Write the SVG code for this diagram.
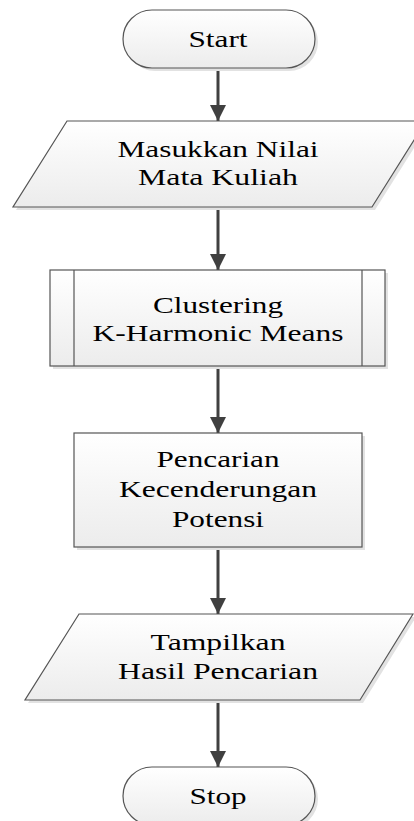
<svg xmlns="http://www.w3.org/2000/svg" width="414" height="821" viewBox="0 0 414 821">
  <defs>
    <linearGradient id="g" x1="0" y1="0" x2="0" y2="1">
      <stop offset="0" stop-color="#ffffff"/>
      <stop offset="1" stop-color="#ececec"/>
    </linearGradient>
    <marker id="ah" markerUnits="userSpaceOnUse" markerWidth="18" markerHeight="18" refX="16" refY="8" orient="auto">
      <path d="M0,0 L16,8 L0,16 z" fill="#404040"/>
    </marker>
  </defs>
  <style>
    .shape { fill: url(#g); stroke: #555555; stroke-width: 1.2; }
    .shadow { fill: #e2e2e2; stroke: none; }
    .inner { stroke: #555555; stroke-width: 1.2; fill: none; }
    .label { font-family: 'Liberation Serif', serif; font-size: 24px; fill: #000000; text-anchor: middle; }
    .conn { stroke: #404040; stroke-width: 3; fill: none; marker-end: url(#ah); }
  </style>
  <rect width="414" height="821" fill="#ffffff"/>

  <g id="connectors">
    <line class="conn" x1="218" y1="68" x2="218" y2="121"/>
    <line class="conn" x1="218" y1="207" x2="218" y2="270"/>
    <line class="conn" x1="218" y1="366" x2="218" y2="433"/>
    <line class="conn" x1="218" y1="547" x2="218" y2="614"/>
    <line class="conn" x1="218" y1="700" x2="218" y2="767"/>
  </g>

  <g id="start">
    <rect class="shadow" x="126" y="13" width="192" height="58" rx="29"/>
    <rect class="shape" x="123" y="10" width="192" height="58" rx="29"/>
    <text class="label" font-family="Liberation Serif" x="218" y="47" textLength="59" lengthAdjust="spacingAndGlyphs">Start</text>
  </g>

  <g id="input">
    <polygon class="shadow" points="70,124 429,124 375,210 16,210"/>
    <polygon class="shape" points="67,121 426,121 372,207 13,207"/>
    <text class="label" x="218" y="157" textLength="201" lengthAdjust="spacingAndGlyphs">Masukkan Nilai</text>
    <text class="label" x="218" y="185" textLength="160" lengthAdjust="spacingAndGlyphs">Mata Kuliah</text>
  </g>

  <g id="clustering">
    <rect class="shadow" x="53" y="273" width="335" height="96"/>
    <rect class="shape" x="50" y="270" width="335" height="96"/>
    <line class="inner" x1="74" y1="270" x2="74" y2="366"/>
    <line class="inner" x1="362" y1="270" x2="362" y2="366"/>
    <text class="label" x="218" y="313" textLength="130" lengthAdjust="spacingAndGlyphs">Clustering</text>
    <text class="label" x="218" y="341" textLength="251" lengthAdjust="spacingAndGlyphs">K-Harmonic Means</text>
  </g>

  <g id="pencarian">
    <rect class="shadow" x="77" y="436" width="288" height="114"/>
    <rect class="shape" x="74" y="433" width="288" height="114"/>
    <text class="label" x="218" y="467" textLength="123" lengthAdjust="spacingAndGlyphs">Pencarian</text>
    <text class="label" x="218" y="497" textLength="198" lengthAdjust="spacingAndGlyphs">Kecenderungan</text>
    <text class="label" x="218" y="527" textLength="92" lengthAdjust="spacingAndGlyphs">Potensi</text>
  </g>

  <g id="output">
    <polygon class="shadow" points="82,617 416,617 363,703 28,703"/>
    <polygon class="shape" points="79,614 413,614 360,700 25,700"/>
    <text class="label" x="218" y="650" textLength="135" lengthAdjust="spacingAndGlyphs">Tampilkan</text>
    <text class="label" x="218" y="679" textLength="200" lengthAdjust="spacingAndGlyphs">Hasil Pencarian</text>
  </g>

  <g id="stop">
    <rect class="shadow" x="126" y="770" width="192" height="58" rx="29"/>
    <rect class="shape" x="123" y="767" width="192" height="58" rx="29"/>
    <text class="label" x="218" y="804" textLength="57" lengthAdjust="spacingAndGlyphs">Stop</text>
  </g>
</svg>
